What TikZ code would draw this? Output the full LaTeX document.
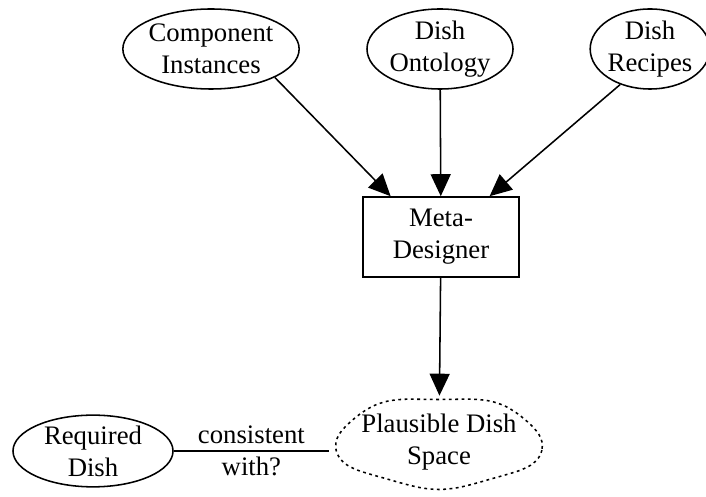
\documentclass[tikz,border=0pt]{standalone}
\usepackage{fontspec}
\setmainfont{Liberation Serif}
\usetikzlibrary{arrows.meta,shapes.geometric}

\begin{document}
\begin{tikzpicture}[x=0.025cm,y=-0.025cm,
    every node/.style={font=\fontsize{19}{22.7}\selectfont,align=center,inner sep=0pt},
    src/.style={draw,ellipse,line width=1.1pt,minimum height=2cm},
    arr/.style={-{Triangle[length=5.5mm,width=5mm]},line width=1.1pt}]
  \useasboundingbox (0,0) rectangle (706,497);

  \node[src,minimum width=4.4cm] (comp) at (211,49) {Component\\Instances};
  \node[src,minimum width=3.65cm] (onto) at (440,49) {Dish\\Ontology};
  \node[src,minimum width=2.9cm] (recp) at (650,49) {Dish\\Recipes};

  \node[draw,rectangle,line width=1.1pt,minimum width=3.9cm,minimum height=2cm] (meta) at (441,237) {Meta-\\Designer};

  \node[ellipse,minimum width=5.2cm,minimum height=2.3cm] (space) at (439,442) {Plausible Dish\\Space};
  \draw[line width=1.1pt,dash pattern=on 2pt off 2.5pt]
    plot[domain=0:350,samples=36,smooth cycle]
    ({439+(103+3*sin(3*\x))*cos(\x)},{442+(45+2.5*sin(5*\x))*sin(\x)});
  \node[src,minimum width=4cm,minimum height=1.7cm] (req) at (93,451) {Required\\Dish};

  \draw[arr] (comp.-24) -- (meta.141);
  \draw[arr] (onto) -- (meta);
  \draw[arr] (recp.230) -- (meta.40);
  \draw[arr] (meta) -- (space);
  \draw[line width=1.1pt] (req.east) -- (req.east -| space.west) node[midway] {consistent\\with?};
\end{tikzpicture}
\end{document}
